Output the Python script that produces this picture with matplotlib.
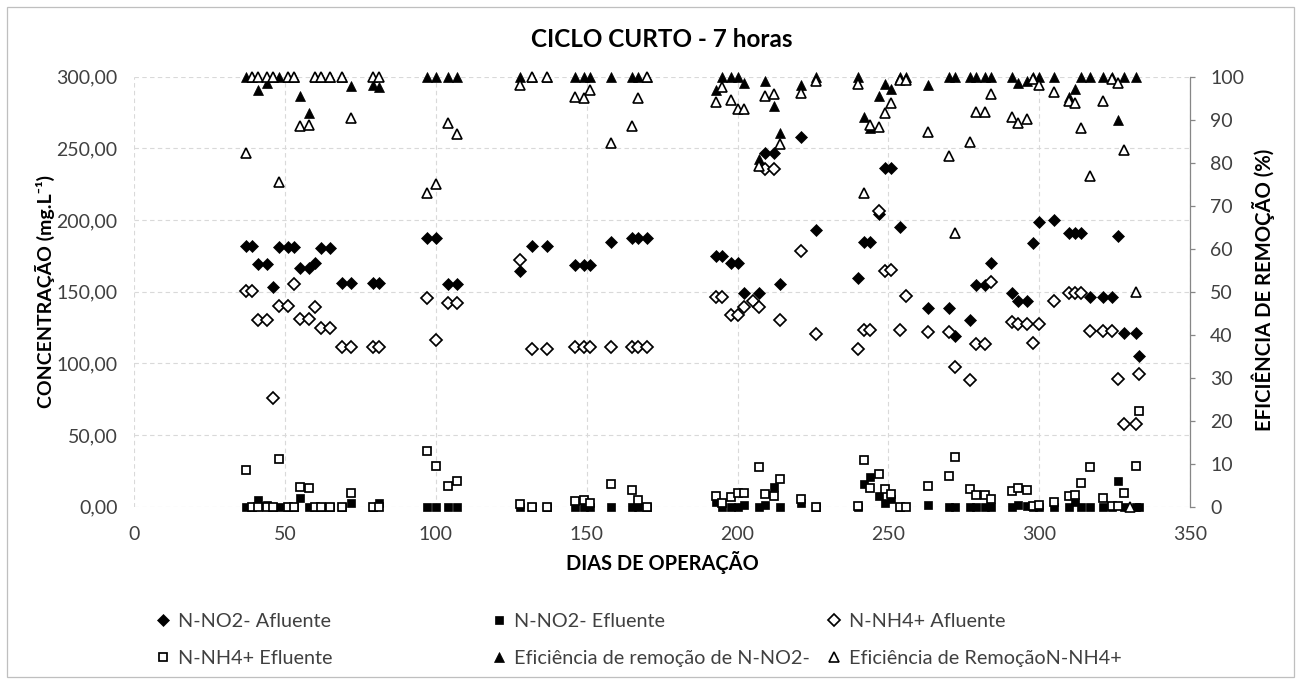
import matplotlib
matplotlib.use("Agg")
import matplotlib.pyplot as plt
from matplotlib.lines import Line2D
from matplotlib.patches import Rectangle

plt.rcParams["font.family"] = ["Lato", "DejaVu Sans"]

# ---------------------------------------------------------------- data
# sampling days (dias de operação)
dias_no2 = [37, 39, 41, 44, 46, 48, 51, 53, 55, 58, 60, 62, 65, 69, 72, 79, 81,
            97, 100, 104, 107,
            128, 132, 137, 146, 149, 151, 158, 165, 167, 170,
            193, 195, 198, 200, 202, 207, 209, 212, 214, 221, 226, 240, 242, 244,
            247, 249, 251, 254,
            263, 270, 272, 277, 279, 282, 284, 291, 293, 296, 298, 300, 305, 310,
            312, 314, 317, 321, 324, 326, 328, 332, 333]

# N-NO2- afluente (mg/L)
no2_afluente = [182.1, 182.1, 169.3, 169.3, 153.1, 181.0, 181.0, 181.0, 166.3, 166.3,
                170.2, 180.7, 180.7, 155.9, 155.9, 155.9, 155.9,
                187.2, 187.2, 155.4, 155.4,
                164.7, 182.1, 182.1, 168.6, 168.6, 168.6, 184.9, 187.7, 187.7, 187.7,
                174.9, 174.9, 169.8, 169.8, 148.9, 148.9, 246.6, 246.6, 155.4, 257.7,
                193.0, 159.3, 184.9, 184.9, 204.2, 236.5, 236.5, 195.4,
                138.4, 138.4, 119.1, 130.3, 154.7, 154.7, 170.2, 148.9, 143.7, 143.7,
                184.2, 198.8, 200.0, 190.7, 190.7, 190.7, 146.5, 146.5, 146.5, 188.9,
                121.4, 121.4, 105.4]

# N-NO2- efluente (mg/L)
no2_efluente = [0.0, 0.0, 4.7, 1.5, 0.0, 0.0, 0.0, 0.0, 6.3, 0.0, 0.0, 0.0, 0.0, 0.0,
                2.3, 0.0, 2.8,
                0.0, 0.0, 0.0, 0.0,
                0.0, 0.0, 0.0, 0.0, 0.0, 0.0, 0.0, 0.0, 0.0, 0.0,
                3.5, 0.0, 0.0, 0.0, 1.0, 0.0, 1.0, 14.0, 0.0, 2.3, 0.0, 0.0, 15.8,
                20.9, 7.4, 2.3, 5.1, 0.0,
                1.2, 0.0, 0.0, 0.0, 0.0, 0.0, 0.0, 0.0, 1.2, 0.5, 0.0, 0.0, 0.0,
                0.0, 3.5, 0.0, 0.0, 0.0, 0.0, 17.9, 0.0, 0.0, 0.0]

dias_nh4_afl = [37, 39, 41, 44, 46, 48, 51, 53, 55, 58, 60, 62, 65, 69, 72, 79, 81,
                97, 100, 104, 107,
                128, 132, 137, 146, 149, 151, 158, 165, 167, 170,
                193, 195, 198, 200, 202, 205, 207, 209, 212, 214, 221, 226, 240, 242,
                244, 247, 249, 251, 254, 256,
                263, 270, 272, 277, 279, 282, 284, 291, 293, 296, 298, 300, 305, 310,
                312, 314, 317, 321, 324, 326, 328, 332, 333]

# N-NH4+ afluente (mg/L)
nh4_afluente = [150.5, 150.5, 130.3, 130.3, 75.6, 140.3, 140.3, 155.4, 131.0, 131.0,
                139.1, 124.9, 124.9, 111.2, 111.2, 111.2, 111.2,
                145.8, 116.3, 142.3, 142.3,
                172.1, 110.0, 110.0, 111.2, 111.2, 111.2, 111.2, 111.6, 111.6, 111.6,
                146.5, 146.5, 133.7, 133.7, 139.5, 143.7, 139.5, 235.4, 235.4, 130.3,
                178.6, 120.5, 109.8, 123.3, 123.3, 206.5, 164.4, 165.1, 123.3, 147.0,
                122.1, 122.1, 97.7, 88.4, 113.5, 113.5, 157.0, 129.1, 127.5, 127.5,
                114.0, 127.5, 143.7, 149.3, 149.3, 149.3, 122.8, 122.8, 122.8, 88.9,
                57.7, 57.7, 92.6]

dias_nh4_efl = [37, 39, 41, 44, 46, 48, 51, 53, 55, 58, 60, 62, 65, 69, 72, 79, 81,
                97, 100, 104, 107,
                128, 132, 137, 146, 149, 151, 158, 165, 167, 170,
                193, 195, 198, 200, 202, 207, 209, 212, 214, 221, 226, 240, 242, 244,
                247, 249, 251, 254, 256,
                263, 270, 272, 277, 279, 282, 284, 291, 293, 296, 298, 300, 305, 310,
                312, 314, 317, 321, 324, 326, 328, 332, 333]

# N-NH4+ efluente (mg/L)
nh4_efluente = [25.6, 0.0, 0.0, 0.0, 0.0, 33.0, 0.0, 0.0, 14.0, 13.3, 0.0, 0.0, 0.0,
                0.0, 9.8, 0.0, 0.0,
                38.9, 28.4, 14.4, 18.1,
                1.7, 0.0, 0.0, 4.2, 4.7, 2.3, 15.8, 11.6, 4.7, 0.0,
                7.5, 2.3, 6.5, 9.3, 9.3, 27.9, 8.8, 7.7, 19.3, 5.1, 0.0, 0.5, 32.6,
                12.8, 22.8, 12.1, 8.8, 0.0, 0.0,
                14.4, 21.4, 34.9, 12.3, 8.1, 8.1, 5.1, 11.2, 12.8, 11.6, 0.5, 1.2,
                3.5, 7.4, 8.1, 16.7, 27.5, 5.8, 0.5, 0.5, 9.3, 28.4, 66.8]

dias_ef_no2 = [37, 39, 41, 44, 46, 48, 51, 53, 55, 58, 60, 62, 65, 69, 72, 79, 81,
               97, 100, 104, 107,
               128, 132, 137, 146, 149, 151, 158, 165, 167, 170,
               193, 195, 198, 200, 202, 207, 209, 212, 214, 221, 226, 240, 242, 244,
               247, 249, 251, 254, 256,
               263, 270, 272, 277, 279, 282, 284, 291, 293, 296, 298, 300, 305, 310,
               312, 314, 317, 321, 324, 326, 328, 332]

# eficiência de remoção de N-NO2- (%)
ef_no2 = [100, 100, 97.0, 98.5, 100, 100, 100, 100, 95.5, 91.5, 100, 100, 100, 100,
          97.8, 98.0, 97.7,
          100, 100, 100, 100,
          100, 100, 100, 100, 100, 100, 100, 100, 100, 100,
          96.9, 100, 100, 100, 98.5, 80.8, 99.0, 93.2, 87.0, 98.1, 100, 100, 90.7,
          88.0, 95.5, 98.2, 97.1, 100, 100,
          98.1, 100, 100, 100, 100, 100, 100, 100, 98.5, 99.0, 100, 100, 100, 95.2,
          97.1, 100, 100, 100, 100, 89.9, 100, 100]

dias_ef_nh4 = [37, 39, 41, 44, 46, 48, 51, 53, 55, 58, 60, 62, 65, 69, 72, 79, 81,
               97, 100, 104, 107,
               128, 132, 137, 146, 149, 151, 158, 165, 167, 170,
               193, 195, 198, 200, 202, 207, 209, 212, 214, 221, 226, 240, 242, 244,
               247, 249, 251, 254, 256,
               263, 270, 272, 277, 279, 282, 284, 291, 293, 296, 298, 300, 305, 310,
               312, 314, 317, 321, 324, 326, 328, 330, 332]

# eficiência de remoção de N-NH4+ (%)
ef_nh4 = [82.2, 100, 100, 100, 100, 75.6, 100, 100, 88.5, 88.8, 100, 100, 100, 100,
          90.3, 100, 100,
          72.9, 75.0, 89.2, 86.6,
          98.1, 100, 100, 95.3, 95.0, 96.9, 84.6, 88.5, 95.0, 100,
          94.2, 97.7, 94.6, 92.4, 92.6, 79.2, 95.5, 96.0, 84.3, 96.1, 99.0, 98.2,
          72.9, 88.8, 88.4, 91.6, 94.0, 99.2, 99.2,
          87.1, 81.6, 63.6, 84.7, 91.9, 91.7, 96.0, 90.7, 89.2, 90.1, 99.5, 98.1,
          96.5, 94.3, 94.0, 88.0, 76.9, 94.4, 99.5, 98.5, 83.0, 0.0, 49.9]

x_ticks = [0, 50, 100, 150, 200, 250, 300, 350]
y_ticks = [0, 50, 100, 150, 200, 250, 300]
y_tick_labels = ["0,00", "50,00", "100,00", "150,00", "200,00", "250,00", "300,00"]
y2_ticks = [0, 10, 20, 30, 40, 50, 60, 70, 80, 90, 100]

titulo = "CICLO CURTO - 7 horas"
rotulo_x = "DIAS DE OPERAÇÃO"
rotulo_y = "CONCENTRAÇÃO (mg.L⁻¹)"
rotulo_y2 = "EFICIÊNCIA DE REMOÇÃO (%)"
nomes = ["N-NO2- Afluente", "N-NO2- Efluente", "N-NH4+ Afluente",
         "N-NH4+ Efluente", "Eficiência de remoção de N-NO2-",
         "Eficiência de RemoçãoN-NH4+"]

# ---------------------------------------------------------------- styles
W, H = 1299, 681
L, R, T, B = 134.2, 1190.0, 76.7, 506.7
TXT = "#404040"
GRID = "#d9d9d9"
AXIS = "#868686"

estilos = [
    dict(marker="D", ms=6.5, mfc="black", mec="black", mew=0.5),
    dict(marker="s", ms=6.4, mfc="black", mec="black", mew=0.5),
    dict(marker="D", ms=5.8, mfc="white", mec="black", mew=1.25),
    dict(marker="s", ms=5.5, mfc="white", mec="black", mew=1.25),
    dict(marker="^", ms=7.2, mfc="black", mec="black", mew=0.5),
    dict(marker="^", ms=6.5, mfc="white", mec="black", mew=1.2),
]

fig = plt.figure(figsize=(W / 100, H / 100), dpi=100)
fig.patch.set_facecolor("white")

ax = fig.add_axes([L / W, 1 - B / H, (R - L) / W, (B - T) / H])
ax.set_xlim(0, 350)
ax.set_ylim(0, 300)
ax.set_xticks(x_ticks)
ax.set_xticklabels([str(v) for v in x_ticks])
ax.set_yticks(y_ticks)
ax.set_yticklabels(y_tick_labels)
for s in ax.spines.values():
    s.set_visible(False)
ax.tick_params(axis="both", length=0, labelsize=14, labelcolor=TXT)
ax.tick_params(axis="x", pad=14)
ax.tick_params(axis="y", pad=12)
ax.grid(True, color=GRID, lw=0.8, ls=(0, (4, 3)))
ax.set_axisbelow(True)

series = [(dias_no2, no2_afluente), (dias_no2, no2_efluente),
          (dias_nh4_afl, nh4_afluente), (dias_nh4_efl, nh4_efluente)]
for (xs, ys), st in zip(series, estilos[:4]):
    ax.plot(xs, ys, ls="none", clip_on=False, **st)

ax2 = ax.twinx()
ax2.set_ylim(0, 100)
ax2.set_yticks(y2_ticks)
ax2.set_yticklabels([str(v) for v in y2_ticks])
for name, s in ax2.spines.items():
    s.set_visible(name == "right")
ax2.spines["right"].set_color(AXIS)
ax2.spines["right"].set_linewidth(0.9)
ax2.tick_params(axis="y", direction="out", length=3.6, width=0.9, color=AXIS,
                labelsize=14, labelcolor=TXT, pad=11)

for (xs, ys), st in zip([(dias_ef_no2, ef_no2), (dias_ef_nh4, ef_nh4)], estilos[4:]):
    ax2.plot(xs, ys, ls="none", clip_on=False, **st)

# titles
fig.text(662 / W, 1 - 46.7 / H, titulo, ha="center", va="baseline",
         fontsize=17.5, fontweight="bold", color="black")
fig.text(662 / W, 1 - 569.5 / H, rotulo_x, ha="center", va="baseline",
         fontsize=14.4, fontweight="bold", color="black")
fig.text(45 / W, 1 - 291.7 / H, rotulo_y, ha="center", va="center", rotation=90,
         fontsize=14, fontweight="bold", color="black")
fig.text(1263 / W, 1 - 290 / H, rotulo_y2, ha="center", va="center", rotation=90,
         fontsize=14.6, fontweight="bold", color="black")

# legend in three columns
handles = [Line2D([], [], ls="none", **st) for st in estilos]
colunas = [(0, 3), (1, 4), (2, 5)]
x_col = [155, 491, 826]
for (i, j), xc in zip(colunas, x_col):
    leg = fig.legend([handles[i], handles[j]], [nomes[i], nomes[j]],
                     loc="center left", bbox_to_anchor=(xc / W, 1 - 640 / H),
                     frameon=False, fontsize=14.3, handlelength=0.85,
                     handletextpad=0.3, labelspacing=0.98, borderpad=0,
                     borderaxespad=0, labelcolor=TXT)

# outer chart border
fig.add_artist(Rectangle((6.5 / W, 4 / H), (1294 - 6.5) / W, (674.3 - 4) / H,
                         transform=fig.transFigure, fill=False, ec="#bfbfbf", lw=0.9))

fig.savefig("out.png", dpi=100, facecolor="white")
